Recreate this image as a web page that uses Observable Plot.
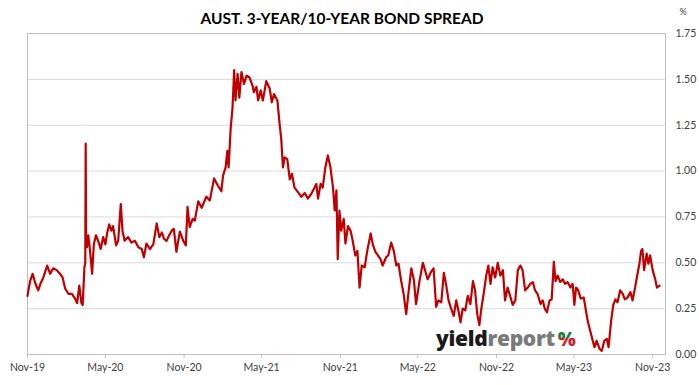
<!DOCTYPE html>
<html><head><meta charset="utf-8">
<script src="https://cdn.jsdelivr.net/npm/d3@7"></script>
<script src="https://cdn.jsdelivr.net/npm/@observablehq/plot@0.6"></script>
<style>body{margin:0;background:#fff;}</style>
</head><body><div id="chart"></div>
<script>
const chartTitle = "AUST. 3-YEAR/10-YEAR BOND SPREAD";
const unitLabel = "%";
const dates = [
"2019-11-01","2019-11-07","2019-11-13","2019-11-19","2019-11-26",
"2019-12-02","2019-12-08","2019-12-17","2019-12-24","2019-12-31",
"2020-01-08","2020-01-16","2020-01-22","2020-01-28",
"2020-02-05","2020-02-13","2020-02-20","2020-02-25",
"2020-03-01","2020-03-06","2020-03-09","2020-03-13","2020-03-15","2020-03-16","2020-03-17","2020-03-19","2020-03-22","2020-03-26","2020-03-31",
"2020-04-04","2020-04-09","2020-04-14","2020-04-20","2020-04-26",
"2020-05-01","2020-05-05","2020-05-10","2020-05-15","2020-05-19","2020-05-26","2020-05-31",
"2020-06-06","2020-06-10","2020-06-15","2020-06-23",
"2020-07-01","2020-07-09","2020-07-17","2020-07-25","2020-07-30",
"2020-08-05","2020-08-13","2020-08-21","2020-08-29",
"2020-09-04","2020-09-10","2020-09-15","2020-09-21","2020-09-25",
"2020-10-03","2020-10-08","2020-10-14","2020-10-22","2020-10-30",
"2020-11-05","2020-11-09","2020-11-14","2020-11-21","2020-11-26",
"2020-12-04","2020-12-12","2020-12-23","2020-12-31",
"2021-01-10","2021-01-19","2021-01-27","2021-01-31",
"2021-02-06","2021-02-10","2021-02-13","2021-02-18","2021-02-22","2021-02-26",
"2021-03-01","2021-03-06","2021-03-10","2021-03-15","2021-03-21","2021-03-27",
"2021-04-03","2021-04-10","2021-04-13","2021-04-19","2021-04-23","2021-04-29",
"2021-05-04","2021-05-12","2021-05-20","2021-05-25","2021-05-30",
"2021-06-07","2021-06-12","2021-06-16","2021-06-20","2021-06-24","2021-06-30",
"2021-07-06","2021-07-11","2021-07-17","2021-07-25",
"2021-08-02","2021-08-10","2021-08-17","2021-08-25",
"2021-09-02","2021-09-06","2021-09-10","2021-09-16","2021-09-21","2021-09-27",
"2021-10-03","2021-10-09","2021-10-15","2021-10-19","2021-10-23","2021-10-26","2021-10-30",
"2021-11-03","2021-11-09","2021-11-13","2021-11-19","2021-11-25","2021-11-30",
"2021-12-06","2021-12-11","2021-12-16","2021-12-21","2021-12-28",
"2022-01-03","2022-01-11","2022-01-16","2022-01-22","2022-01-28",
"2022-02-03","2022-02-08","2022-02-16","2022-02-21","2022-02-28",
"2022-03-06","2022-03-12","2022-03-17","2022-03-23","2022-03-29",
"2022-04-04","2022-04-09","2022-04-16","2022-04-22","2022-04-27",
"2022-05-05","2022-05-13","2022-05-18","2022-05-24",
"2022-06-01","2022-06-07","2022-06-13","2022-06-18","2022-06-25",
"2022-07-01","2022-07-06","2022-07-12","2022-07-18","2022-07-24","2022-07-30",
"2022-08-04","2022-08-09","2022-08-14","2022-08-20","2022-08-26",
"2022-09-01","2022-09-07","2022-09-12","2022-09-17","2022-09-22","2022-09-26",
"2022-10-02","2022-10-08","2022-10-13","2022-10-18","2022-10-23","2022-10-29",
"2022-11-04","2022-11-10","2022-11-16","2022-11-21","2022-11-27",
"2022-12-04","2022-12-09","2022-12-15","2022-12-21","2022-12-27",
"2023-01-01","2023-01-07","2023-01-13","2023-01-19","2023-01-25","2023-01-30",
"2023-02-05","2023-02-12","2023-02-17","2023-02-22","2023-02-27",
"2023-03-05","2023-03-10","2023-03-15","2023-03-19","2023-03-24","2023-03-30",
"2023-04-05","2023-04-10","2023-04-16","2023-04-23","2023-04-28",
"2023-05-02","2023-05-06","2023-05-11","2023-05-17","2023-05-24","2023-05-29",
"2023-06-02","2023-06-08","2023-06-14","2023-06-18","2023-06-23","2023-06-30",
"2023-07-05","2023-07-11","2023-07-17","2023-07-21","2023-07-27",
"2023-08-01","2023-08-06","2023-08-11","2023-08-17","2023-08-23","2023-08-28",
"2023-09-03","2023-09-10","2023-09-15","2023-09-21","2023-09-25",
"2023-10-01","2023-10-05","2023-10-08","2023-10-12","2023-10-18","2023-10-22","2023-10-26",
"2023-11-01","2023-11-07","2023-11-11","2023-11-17"
];
const spread = [
0.32,0.40,0.44,0.39,0.35,
0.39,0.42,0.485,0.44,0.47,
0.46,0.44,0.42,0.36,
0.33,0.33,0.305,0.28,
0.375,0.28,0.27,0.475,0.50,1.15,0.62,0.585,0.65,0.57,0.44,
0.60,0.65,0.62,0.575,0.64,
0.60,0.66,0.71,0.675,0.70,0.595,0.62,
0.82,0.675,0.62,0.64,
0.61,0.62,0.585,0.575,0.53,
0.605,0.575,0.60,0.715,
0.64,0.665,0.63,0.62,0.64,
0.675,0.685,0.56,0.67,0.62,
0.595,0.805,0.695,0.74,0.73,
0.835,0.80,0.86,0.84,
0.96,0.92,0.89,0.975,
1.02,1.11,1.02,1.24,1.34,1.55,
1.385,1.53,1.40,1.54,1.475,1.52,
1.51,1.465,1.43,1.46,1.385,1.44,
1.385,1.49,1.45,1.375,1.42,
1.385,1.26,1.175,1.02,1.075,1.065,
0.955,0.985,0.91,0.885,
0.86,0.88,0.85,0.875,
0.91,0.93,0.85,0.93,0.91,1.02,
1.085,1.02,0.91,0.785,0.895,0.52,0.785,
0.675,0.74,0.605,0.70,0.675,0.62,
0.54,0.565,0.365,0.485,0.475,
0.565,0.66,0.60,0.56,0.54,
0.52,0.485,0.53,0.54,0.61,
0.565,0.485,0.495,0.405,0.33,
0.22,0.33,0.47,0.405,0.275,
0.40,0.50,0.46,0.41,
0.45,0.47,0.26,0.295,0.285,
0.445,0.385,0.295,0.25,0.21,0.295,
0.24,0.175,0.25,0.24,0.32,
0.275,0.40,0.35,0.22,0.16,0.24,
0.33,0.43,0.485,0.385,0.475,0.42,
0.50,0.43,0.46,0.295,0.365,
0.31,0.27,0.295,0.46,0.485,
0.46,0.35,0.365,0.385,0.395,0.35,
0.33,0.275,0.295,0.25,0.23,
0.295,0.30,0.505,0.40,0.43,0.395,
0.41,0.385,0.395,0.365,0.385,
0.27,0.365,0.35,0.305,0.31,0.24,
0.185,0.13,0.075,0.04,0.075,0.03,
0.02,0.075,0.085,0.04,0.185,
0.27,0.30,0.285,0.35,0.33,0.30,
0.31,0.34,0.295,0.365,0.42,
0.495,0.565,0.575,0.46,0.55,0.495,0.54,
0.46,0.41,0.365,0.375
];
const xTicks = ["2019-11-01","2020-05-01","2020-11-01","2021-05-01","2021-11-01","2022-05-01","2022-11-01","2023-05-01","2023-11-01"];
const xTickLabels = ["Nov-19","May-20","Nov-20","May-21","Nov-21","May-22","Nov-22","May-23","Nov-23"];
const yTicks = [0, 0.25, 0.5, 0.75, 1, 1.25, 1.5, 1.75];
const xDomain = ["2019-11-01", "2023-12-01"];

const data = dates.map((d, i) => ({date: new Date(d), value: spread[i]}));
const xTickDates = xTicks.map(d => new Date(d));

const chart = Plot.plot({
  width: 699, height: 385,
  marginLeft: 27, marginRight: 34, marginTop: 33, marginBottom: 31,
  style: {fontFamily: "Lato, sans-serif", fontSize: "10.5px", color: "#404040", background: "#fff", overflow: "visible"},
  x: {type: "utc", domain: xDomain.map(d => new Date(d))},
  y: {domain: [0, 1.75]},
  marks: [
    Plot.gridY(yTicks, {stroke: "#d9d9d9", strokeOpacity: 1}),
    Plot.frame({stroke: "#bfbfbf"}),
    Plot.axisY(yTicks, {anchor: "right", tickSize: 0, tickPadding: 10, tickFormat: d3.format(".2f"), label: null}),
    Plot.axisX(xTickDates, {tickSize: 4, tickPadding: 5, stroke: "#bfbfbf", label: null,
      tickFormat: d => xTickLabels[xTickDates.findIndex(t => +t === +d)]}),
    Plot.line(data, {x: "date", y: "value", stroke: "#c00000", strokeWidth: 2.2})
  ]
});
document.getElementById("chart").appendChild(chart);

const svg = d3.select(chart);
svg.append("text").attr("x", 342).attr("y", 24).attr("text-anchor", "middle")
  .attr("font-family", "Lato, sans-serif").attr("font-weight", 700).attr("font-size", 15.5).attr("fill", "#000")
  .text(chartTitle);
svg.append("text").attr("x", 683).attr("y", 15).attr("text-anchor", "middle")
  .attr("font-family", "Lato, sans-serif").attr("font-size", 9).attr("fill", "#404040")
  .text(unitLabel);

const defs = svg.append("defs");
const g = defs.append("linearGradient").attr("id", "pct").attr("x1", 0).attr("y1", 0).attr("x2", 0).attr("y2", 1);
g.append("stop").attr("offset", "50%").attr("stop-color", "#1d7a3a");
g.append("stop").attr("offset", "50%").attr("stop-color", "#c1272d");
const wm = svg.append("text").attr("x", 436).attr("y", 346).attr("text-anchor", "start")
  .attr("font-family", "'Open Sans', sans-serif").attr("font-weight", 800).attr("font-size", 21)
  .attr("letter-spacing", -0.3);
wm.append("tspan").attr("fill", "#1a1a1a").text("yield");
wm.append("tspan").attr("fill", "#7a7a7a").text("report");
wm.append("tspan").attr("fill", "url(#pct)").attr("dx", 3).attr("font-size", 19).text("%");
</script>
</body></html>
